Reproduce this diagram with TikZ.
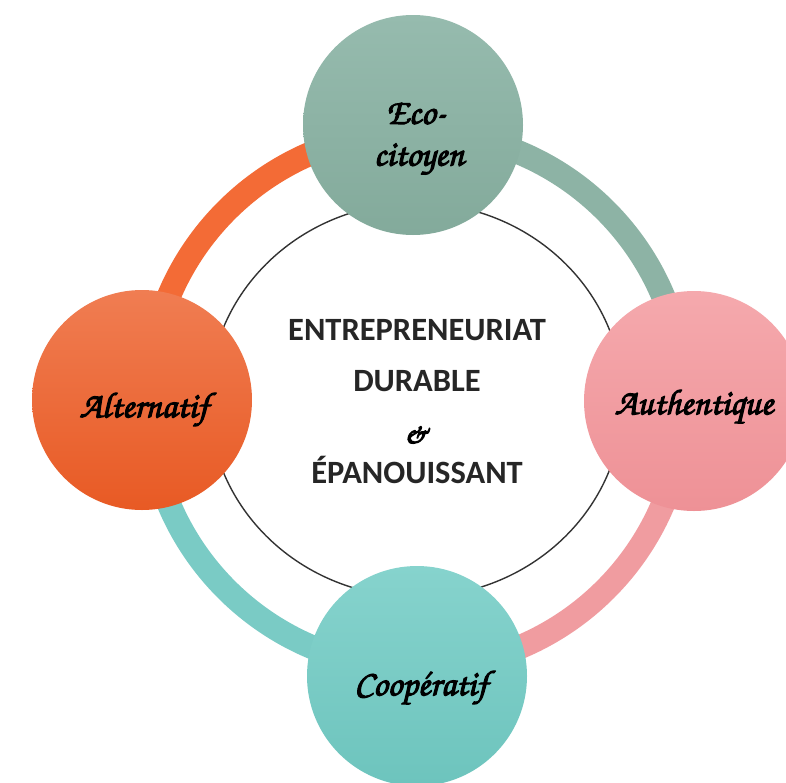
\documentclass[tikz,border=0pt]{standalone}
\usepackage[T1]{fontenc}
\usepackage{fontspec}
\setmainfont{Carlito}
\newcommand{\brush}{\fontencoding{T1}\fontfamily{pzc}\fontseries{mb}\fontshape{it}\selectfont}
\newcommand{\heavy}[1]{\special{pdf:literal direct 2 Tr 1.1 w 1 j}#1\special{pdf:literal direct 0 Tr}}
\definecolor{sageA}{HTML}{96BBAE}
\definecolor{sageB}{HTML}{83AA9B}
\definecolor{sageR}{HTML}{8DB3A5}
\definecolor{oranA}{HTML}{F07D52}
\definecolor{oranB}{HTML}{E85A24}
\definecolor{oranR}{HTML}{F36B36}
\definecolor{pinkA}{HTML}{F5A9AD}
\definecolor{pinkB}{HTML}{EE9196}
\definecolor{pinkR}{HTML}{F09CA0}
\definecolor{tealA}{HTML}{86D3CD}
\definecolor{tealB}{HTML}{6DC4BD}
\definecolor{tealR}{HTML}{7ACBC5}
\definecolor{inkline}{HTML}{333333}
\begin{document}
\begin{tikzpicture}[x=1pt,y=-1pt,
  ringarc/.style={line width=24pt},
  bigdisc/.style={circle, minimum size=220pt, inner sep=0pt},
  brushlbl/.style={font=\brush\fontsize{36}{38}\selectfont, text=black, inner sep=0pt, align=center},
  centerlbl/.style={font=\bfseries\fontsize{32.5}{36}\selectfont, text=black!85, inner sep=0pt}]
\useasboundingbox (0,0) rectangle (786,782);
\fill[white] (0,0) rectangle (786,782);
\coordinate (c) at (416,400);
% thick ring
\draw[ringarc, pinkR] (c) ++(0:268) arc[start angle=0, end angle=90, radius=268];
\draw[ringarc, tealR] (c) ++(90:268) arc[start angle=90, end angle=180, radius=268];
\draw[ringarc, oranR] (c) ++(180:268) arc[start angle=180, end angle=270, radius=268];
\draw[ringarc, sageR] (c) ++(270:268) arc[start angle=270, end angle=360, radius=268];
% thin inner ellipse
\draw[inkline, line width=1.4pt] (c) ellipse [x radius=207, y radius=197];
% discs
\node[bigdisc, top color=sageA, bottom color=sageB] (eco) at (413,125) {};
\node[bigdisc, top color=oranA, bottom color=oranB] (alt) at (142,400) {};
\node[bigdisc, top color=pinkA, bottom color=pinkB] (aut) at (694,401) {};
\node[bigdisc, top color=tealA, bottom color=tealB] (coop) at (417,676) {};
% labels
\node[brushlbl] (ecot1) at (416,113) {\heavy{Eco-}};
\node[brushlbl] (ecot2) at (419,160) {\heavy{citoyen}};
\node[brushlbl] (altt) at (144,410) {\heavy{Alternatif}};
\node[brushlbl] (autt) at (694,407) {\heavy{Authentique}};
\node[brushlbl] (coopt) at (421,688) {\heavy{Coopératif}};
% centre text
\node[centerlbl] (l1) at (417,330) {ENTREPRENEURIAT};
\node[centerlbl] (l2) at (417,381) {DURABLE};
\node[brushlbl, font=\brush\fontsize{30}{32}\selectfont] (l3) at (416,434) {\heavy{\&}};
\node[centerlbl] (l4) at (417,470) {ÉPANOUISSANT};
\end{tikzpicture}
\end{document}
